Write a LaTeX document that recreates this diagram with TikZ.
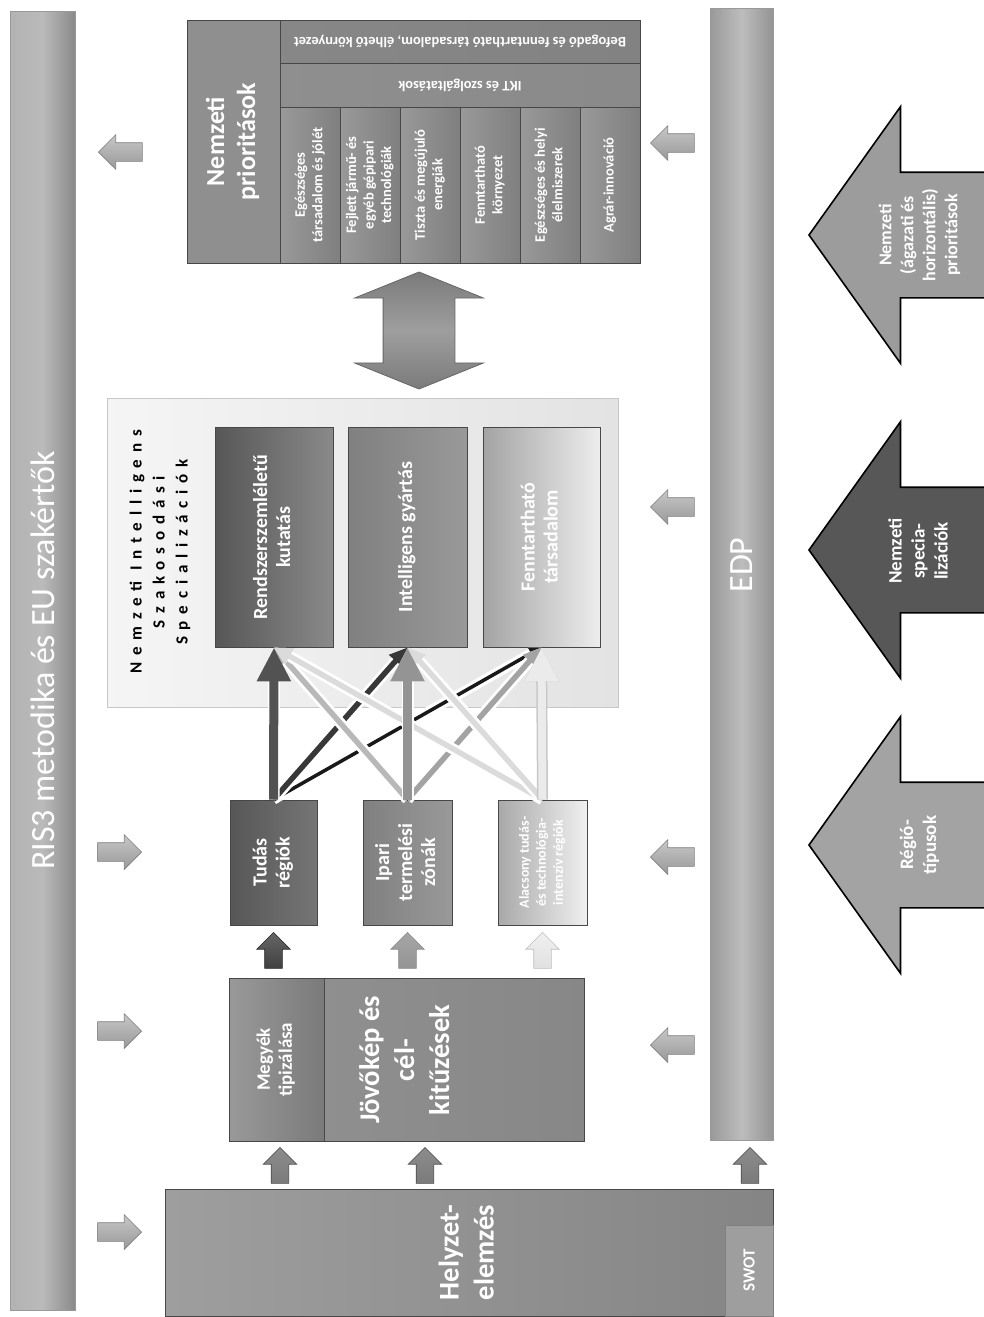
\documentclass[tikz,border=0pt]{standalone}
\usepackage{fontspec}
\setmainfont{Carlito}
\newfontfamily\spacedfont[LetterSpace=40]{Carlito}
\usetikzlibrary{shapes.arrows,arrows.meta}
\newcommand{\vtext}[1]{\rotatebox{90}{\begin{tabular}{@{}c@{}}#1\end{tabular}}}
\newcommand{\utext}[1]{\rotatebox{180}{#1}}
\newcommand{\bx}[7][]{\node[inner sep=0pt,#1,minimum width={(#5-#3)*1pt},minimum height={(#6-#4)*1pt}] (#2) at ({(#3+#5)/2},{(#4+#6)/2}) {#7};}
\newcommand{\ftBox}{\bfseries\fontsize{20}{23}\selectfont}
\newcommand{\ftBand}{\bfseries\fontsize{14.5}{17.5}\selectfont}
\newcommand{\ftLarge}{\bfseries\fontsize{28.5}{35}\selectfont}
\newcommand{\ftArrow}{\bfseries\fontsize{19}{23}\selectfont}
\newcommand{\ftBar}{\fontsize{34}{38}\selectfont}
\begin{document}
\begin{tikzpicture}[x=1pt,y=-1pt,
  frame/.style={draw=black!72,line width=0.8pt},
  wbox/.style={frame,text=white},
  band/.style={wbox,font=\ftBand,left color=black!40,right color=black!50},
  sarr/.style={single arrow,inner xsep=0pt,inner ysep=9pt,line width=0.6pt,draw=black!50,
     minimum height=44pt,minimum width=34pt,single arrow head extend=8pt,
     single arrow tip angle=90,top color=black!22,bottom color=black!40},
  uarr/.style={sarr,minimum height=36pt,minimum width=33pt,inner ysep=8.5pt,rotate=90},
  bigarr/.style={single arrow,inner xsep=0pt,inner ysep=62pt,line width=1.6pt,draw=black,
     minimum height=215pt,minimum width=255pt,single arrow head extend=65.5pt,
     single arrow tip angle=109,rotate=180},
  bigtxt/.style={text=white,font=\ftArrow},
  halo/.style={preaction={draw=white,line width=#1}},
  ]
\useasboundingbox (0,0) rectangle (984,1317);
\clip (0,0) rectangle (984,1317);
\fill[white] (0,0) rectangle (984,1317);

% side bars
\bx[draw=black!40,line width=0.6pt,text=white,font=\ftBar,left color=black!30,right color=black!46,middle color=black!27]{ris}{10}{11}{75}{1310}{\rotatebox{90}{RIS3 metodika és EU szakértők}}
\bx[draw=black!40,line width=0.6pt,left color=black!40,right color=black!42,middle color=black!26]{edp}{710}{8}{773}{1140}{}
\node[text=white,font=\ftBar] (edptxt) at (741.5,565) {\rotatebox{90}{EDP}};

% national priorities
\bx[wbox,fill=black!44,font=\bfseries\fontsize{26}{31}\selectfont]{prioHead}{187}{20}{280}{263}{\vtext{Nemzeti\\prioritások}}
\bx[wbox,font=\ftBand,left color=black!47,right color=black!49]{strip1}{280}{20}{640}{63}{\utext{Befogadó és fenntartható társadalom, élhető környezet}}
\bx[wbox,font=\ftBand,left color=black!44,right color=black!46]{strip2}{280}{63}{640}{107}{\utext{IKT és szolgáltatások}}
\bx[band]{band1}{280}{107}{340}{263}{\vtext{Egészséges\\társadalom és jólét}}
\bx[band]{band2}{340}{107}{400}{263}{\vtext{Fejlett jármű- és\\egyéb gépipari\\technológiák}}
\bx[band]{band3}{400}{107}{460}{263}{\vtext{Tiszta és megújuló\\energiák}}
\bx[band]{band4}{460}{107}{520}{263}{\vtext{Fenntartható\\környezet}}
\bx[band]{band5}{520}{107}{580}{263}{\vtext{Egészséges és helyi\\élelmiszerek}}
\bx[band]{band6}{580}{107}{640}{263}{\vtext{Agrár-innováció}}

% double arrow
\node[double arrow,draw=black!60,line width=0.8pt,inner xsep=0pt,inner ysep=35.5pt,minimum height=117pt,
  minimum width=128pt,double arrow head extend=28.5pt,double arrow tip angle=136,rotate=90,
  top color=black!52,bottom color=black!52,middle color=black!38] (dbl) at (419,330.5) {};

% NIS box
\bx[draw=black!22,line width=0.8pt,left color=black!4,right color=black!11]{nis}{107}{398}{618}{707}{}
\node[font=\spacedfont\bfseries\fontsize{17}{23}\selectfont] (nistitle) at (160,552) {\vtext{Nemzeti Intelligens\\Szakosodási\\Specializációk}};
\bx[wbox,font=\ftBox,left color=black!66,right color=black!46]{spec1}{215}{427}{333}{647}{\vtext{Rendszerszemléletű\\kutatás}}
\bx[wbox,font=\ftBox,left color=black!50,right color=black!40]{spec2}{348}{427}{467}{647}{\vtext{Intelligens gyártás}}
\bx[wbox,font=\ftBox,left color=black!36,right color=black!7]{spec3}{483}{427}{600}{647}{\vtext{Fenntartható\\társadalom}}

% region types
\bx[wbox,font=\ftBox,left color=black!66,right color=black!54]{reg1}{230}{800}{317}{925}{\vtext{Tudás\\régiók}}
\bx[wbox,font=\ftBox,left color=black!50,right color=black!40]{reg2}{363}{800}{452}{925}{\vtext{Ipari\\termelési\\zónák}}
\bx[wbox,font=\bfseries\fontsize{14}{17}\selectfont,left color=black!34,right color=black!6]{reg3}{498}{800}{587}{925}{\vtext{Alacsony tudás-\\és technológia-\\intenzív régiók}}

% connectors regions -> specialisations
\draw[halo=10pt,line width=3.5pt,black!90,-{Triangle[length=12pt,width=12pt]}] (reg1.north) -- (spec3.south);
\draw[halo=11pt,line width=5.5pt,black!78,-{Triangle[length=18pt,width=17pt]}] (reg1.north) -- (spec2.south);
\draw[halo=11pt,line width=5.5pt,black!28,-{Triangle[length=18pt,width=17pt]}] (reg2.north) -- (spec1.south);
\draw[halo=11pt,line width=5.5pt,black!36,-{Triangle[length=18pt,width=17pt]}] (reg2.north) -- (spec3.south);
\draw[halo=11pt,line width=5.5pt,black!14,-{Triangle[length=18pt,width=17pt]}] (reg3.north) -- (spec1.south);
\draw[halo=11pt,line width=5.5pt,black!14,-{Triangle[length=18pt,width=17pt]}] (reg3.north) -- (spec2.south);
\draw[halo=12pt,line width=9pt,black!68,-{Triangle[length=34pt,width=32pt]}] (reg1.north) -- (spec1.south);
\draw[halo=12pt,line width=9pt,black!42,-{Triangle[length=34pt,width=32pt]}] (reg2.north) -- (spec2.south);
\draw[preaction={draw=black!22,line width=11pt},line width=8pt,black!8,-{Triangle[length=34pt,width=32pt]}] (reg3.north) -- (spec3.south);

% county typing / vision
\bx[wbox,font=\bfseries\fontsize{19}{22}\selectfont,left color=black!40,right color=black!52]{megy}{229}{978}{324}{1141}{\vtext{Megyék\\tipizálása}}
\bx[wbox,left color=black!44,right color=black!47]{jov}{324}{978}{584}{1141}{}
\node[text=white,font=\ftLarge] (jovtxt) at (407,1060) {\vtext{Jövőkép és\\cél-\\kitűzések}};

% situation analysis
\bx[wbox,font=\ftLarge,left color=black!38,right color=black!48]{helyzet}{165}{1189}{773}{1316}{\vtext{Helyzet-\\elemzés}}
\bx[wbox,font=\bfseries\fontsize{17}{20}\selectfont,draw=black!50,fill=black!38]{swot}{725}{1225}{773}{1316}{\rotatebox{90}{SWOT}}

% small arrows to/from RIS3 bar
\node[sarr,rotate=180,anchor=tip] (l1) at (98,152) {};
\node[sarr,anchor=tip] (l2) at (142,852) {};
\node[sarr,anchor=tip] (l3) at (142,1031) {};
\node[sarr,anchor=tip] (l4) at (142,1232) {};
% small arrows from EDP bar
\node[sarr,rotate=180,anchor=tip] (r1) at (650,143) {};
\node[sarr,rotate=180,anchor=tip] (r2) at (650,507) {};
\node[sarr,rotate=180,anchor=tip] (r3) at (650,857) {};
\node[sarr,rotate=180,anchor=tip] (r4) at (650,1045) {};

% up arrows
\node[uarr,anchor=tip,draw=black!85,top color=black!60,bottom color=black!75] (u1) at (reg1.center |- 0,932) {};
\node[uarr,anchor=tip,draw=black!45,top color=black!35,bottom color=black!42] (u2) at (reg2.center |- 0,932) {};
\node[uarr,anchor=tip,draw=black!25,top color=black!6,bottom color=black!12] (u3) at (reg3.center |- 0,932) {};
\node[uarr,anchor=tip,draw=black!70,top color=black!45,bottom color=black!52] (u4) at (280,1147) {};
\node[uarr,anchor=tip,draw=black!70,top color=black!45,bottom color=black!52] (u5) at (425,1147) {};
\node[uarr,anchor=tip,draw=black!70,top color=black!45,bottom color=black!52] (u6) at (750,1147) {};

% big arrows
\node[bigarr,anchor=tip,fill=black!39] (big1) at (808,235) {};
\node[bigarr,anchor=tip,fill=black!66] (big2) at (808,550) {};
\node[bigarr,anchor=tip,fill=black!36] (big3) at (808,845) {};
\node[bigtxt,font=\bfseries\fontsize{18}{22}\selectfont] (big1txt) at (920,235) {\vtext{Nemzeti\\(ágazati és\\horizontális)\\prioritások}};
\node[bigtxt] (big2txt) at (920,551) {\vtext{Nemzeti\\specia-\\lizációk}};
\node[bigtxt] (big3txt) at (920,845) {\vtext{Régió-\\típusok}};
\end{tikzpicture}
\end{document}
